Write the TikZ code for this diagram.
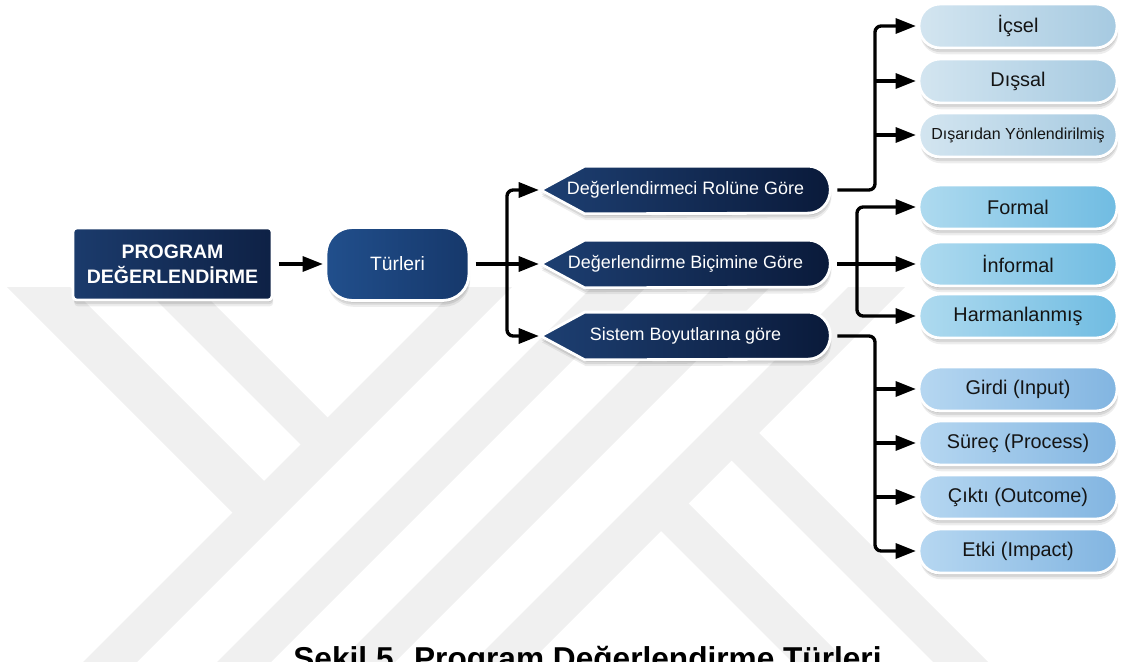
\documentclass[tikz,border=0pt]{standalone}
\usepackage{fontspec}
\setmainfont{Liberation Sans}
\usetikzlibrary{arrows.meta,shadows,calc}

\pgfdeclarelayer{wmark}
\pgfdeclarelayer{under}
\pgfsetlayers{wmark,under,main}

\definecolor{boxA}{HTML}{1B3B6C}
\definecolor{boxB}{HTML}{0E2145}
\definecolor{turA}{HTML}{214F8C}
\definecolor{turB}{HTML}{16386B}
\definecolor{navyA}{HTML}{1D3F72}
\definecolor{navyB}{HTML}{0A1A3A}
\definecolor{g1A}{HTML}{D3E5F0}
\definecolor{g1B}{HTML}{A6CAE1}
\definecolor{g2A}{HTML}{AEDAEF}
\definecolor{g2B}{HTML}{70BCE2}
\definecolor{g3A}{HTML}{B6D7F1}
\definecolor{g3B}{HTML}{82B5E1}
\definecolor{wmgray}{HTML}{F0F0F0}

% left-pointing tag with a rounded right end, drawn around a named node
\newcommand\drawtag[1]{%
  \path[tagshape] (#1.west) -- ($(#1.north west)+(44,0)$)
    -- ($(#1.north east)+(-22,0)$)
    arc[start angle=-90,end angle=90,x radius=22,y radius=23.5]
    -- ($(#1.south west)+(44,0)$) -- cycle;}

\tikzset{
  softshadow/.style={
    general shadow={fill=black, opacity=0.10, shadow xshift=0.3pt, shadow yshift=-1.2pt},
    general shadow={fill=black, opacity=0.09, shadow xshift=0.5pt, shadow yshift=-2.4pt},
    general shadow={fill=black, opacity=0.07, shadow xshift=0.7pt, shadow yshift=-3.6pt}},
  card/.style={draw=white, line width=1.6pt, softshadow, inner sep=0pt},
  progbox/.style={card, rounded corners=2pt, minimum width=3.98cm, minimum height=1.44cm,
    left color=boxA, right color=boxB, text=white, align=center,
    font=\bfseries\fontsize{11.1}{14.2}\selectfont},
  turbox/.style={card, rounded corners=15pt, minimum width=2.86cm, minimum height=1.46cm,
    left color=turA, right color=turB, text=white, font=\fontsize{11}{13}\selectfont},
  tagnode/.style={minimum width=5.78cm, minimum height=0.94cm, inner sep=0pt, text=white,
    font=\fontsize{10.2}{12}\selectfont},
  tagshape/.style={draw=white, line width=1.6pt, left color=navyA, right color=navyB, softshadow},
  pill/.style={card, rounded corners=12pt, minimum width=3.96cm, minimum height=0.88cm,
    text=black!92, font=\fontsize{11.3}{13}\selectfont},
  pillA/.style={pill, left color=g1A, right color=g1B},
  pillB/.style={pill, left color=g2A, right color=g2B},
  pillC/.style={pill, left color=g3A, right color=g3B},
  conn/.style={line width=1.9pt, -{Triangle[length=11.5pt,width=8.5pt]}, rounded corners=3.5pt,
    shorten >=1pt},
}

\begin{document}
\begin{tikzpicture}[x=0.02cm, y=-0.02cm]
\useasboundingbox (0,0) rectangle (1125,662);
\clip (0,0) rectangle (1125,662);

% faint striped emblem in the background
\begin{pgfonlayer}{wmark}
  \begin{scope}
    \clip (0,287) rectangle (1125,662);
    \fill[wmgray] (458,287) -- (512,287) -- (137,662) -- (83,662) -- cycle;
    \fill[wmgray] (592,287) -- (646,287) -- (271,662) -- (217,662) -- cycle;
    \fill[wmgray] (714,287) -- (770,287) -- (395,662) -- (339,662) -- cycle;
    \fill[wmgray] (848,287) -- (905,287) -- (530,662) -- (473,662) -- cycle;
    \fill[wmgray] (7,287) -- (70,287) -- (276,493) -- (245,525) -- cycle;
    \fill[wmgray] (143,287) -- (197,287) -- (340,430) -- (313,457) -- cycle;
    \fill[wmgray] (745.5,419.5) -- (988,662) -- (933,662) -- (718,447) -- cycle;
    \fill[wmgray] (675,490) -- (847,662) -- (792,662) -- (647.5,517.5) -- cycle;
  \end{scope}
\end{pgfonlayer}

% main chain
\node[progbox] (prog) at (172.5,264) {PROGRAM\\DEĞERLENDİRME};
\node[turbox] (tur) at (397.5,264) {Türleri};

% the three ways of classifying
\node[tagnode] (r1) at (685.5,190) {Değerlendirmeci Rolüne Göre};
\node[tagnode] (r2) at (685.5,264) {Değerlendirme Biçimine Göre};
\node[tagnode] (r3) at (685.5,336) {Sistem Boyutlarına göre};
\begin{pgfonlayer}{under}
  \drawtag{r1}
  \drawtag{r2}
  \drawtag{r3}
\end{pgfonlayer}

% evaluator role
\node[pillA] (ic)  at (1018,26)  {İçsel};
\node[pillA] (dis) at (1018,81)  {Dışsal};
\node[pillA, font=\fontsize{9.1}{11}\selectfont] (yon) at (1018,135) {Dışarıdan Yönlendirilmiş};

% evaluation form
\node[pillB] (for)  at (1018,207) {Formal};
\node[pillB] (inf)  at (1018,264) {İnformal};
\node[pillB] (harm) at (1018,316) {Harmanlanmış};

% system dimensions
\node[pillC] (gir) at (1018,389) {Girdi (Input)};
\node[pillC] (sur) at (1018,443) {Süreç (Process)};
\node[pillC] (cik) at (1018,497) {Çıktı (Outcome)};
\node[pillC] (etk) at (1018,551) {Etki (Impact)};

% caption
\node[anchor=base, font=\bfseries\fontsize{18}{22}\selectfont] (cap) at (587.5,669)
  {Şekil 5. Program Değerlendirme Türleri};

% junction columns
\coordinate (j0) at (507,264);
\coordinate (j1) at (875,0);
\coordinate (j2) at (857,0);
\coordinate (j3) at (875,0);

% connectors
\draw[conn, shorten <=3pt] (prog.east) -- (tur.west);
\draw[conn, shorten <=3pt] (tur.east) -- (r2.west);
\draw[conn] (j0) |- (r1.west);
\draw[conn] (j0) |- (r3.west);

\draw[conn, shorten <=4pt] (r1.east) -| (j1 |- ic.west) -- (ic.west);
\draw[conn] (j1 |- dis.west) -- (dis.west);
\draw[conn] (j1 |- yon.west) -- (yon.west);

\draw[conn, shorten <=4pt] (r2.east) -- (inf.west);
\draw[conn] (j2 |- inf.west) |- (for.west);
\draw[conn] (j2 |- inf.west) |- (harm.west);

\draw[conn, shorten <=4pt] (r3.east) -| (j3 |- etk.west) -- (etk.west);
\draw[conn] (j3 |- gir.west) -- (gir.west);
\draw[conn] (j3 |- sur.west) -- (sur.west);
\draw[conn] (j3 |- cik.west) -- (cik.west);
\end{tikzpicture}
\end{document}
